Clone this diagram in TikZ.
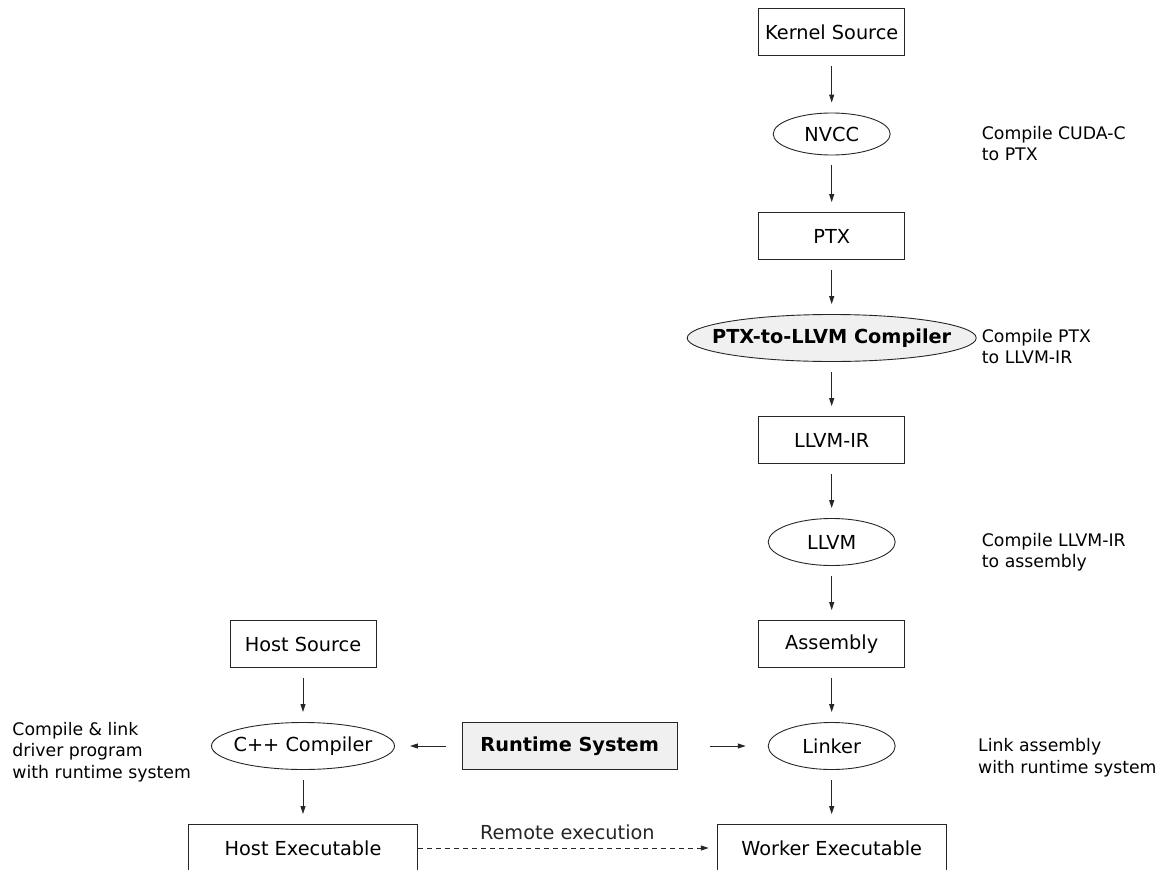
\documentclass[tikz,border=0pt]{standalone}
\usepackage{fontspec}
\setmainfont{DejaVu Sans}
\usepackage{tikz}
\usetikzlibrary{shapes.geometric, arrows.meta, positioning}
\definecolor{nodefill}{HTML}{F0F0F0}
\definecolor{linecol}{HTML}{262626}

\begin{document}
\begin{tikzpicture}[x=1pt, y=1pt, node distance=102pt and 262pt, on grid, every node/.style={font=\fontsize{19.3}{23}\selectfont}]
\tikzstyle{bx}=[draw=linecol, line width=0.9pt, rectangle, inner sep=0pt, minimum width=146pt, minimum height=47pt]
\tikzstyle{el}=[draw=linecol, line width=0.9pt, ellipse, inner sep=0pt, minimum width=127pt, minimum height=47pt]
\tikzstyle{note}=[font=\fontsize{17.3}{21.5}\selectfont, align=left, inner sep=0pt, anchor=base west]
\tikzstyle{ar}=[-{Triangle[length=8pt, width=5pt]}, line width=0.9pt, color=linecol, shorten <=10pt, shorten >=10pt]

\useasboundingbox (0,0) rectangle (1173,-870);

% kernel side
\node[bx](ks) at (831.7,-32){Kernel Source};
\node[el, below=of ks, minimum width=117pt, minimum height=42pt](nv){NVCC};
\node[bx, below=of nv](ptx){PTX};
\node[el, below=of ptx, minimum width=289pt, fill=nodefill, font=\fontsize{19.3}{23}\selectfont\bfseries](pl){\makebox[0pt]{PTX-to-LLVM Compiler}};
\node[bx, below=of pl](ir){LLVM-IR};
\node[el, below=of ir](lv){LLVM};
\node[bx, below=of lv](as){Assembly};
\node[el, below=of as](lk){Linker};
\node[bx, below=of lk, minimum width=229pt](we){Worker Executable};

% host side
\node[bx, left=528.7pt of as](hs){Host Source};
\node[el, left=528.7pt of lk, minimum width=183pt](cc){\makebox[0pt]{C++ Compiler}};
\node[bx, below=of cc, minimum width=229pt](he){Host Executable};
\node[bx, left=of lk, minimum width=215pt, fill=nodefill, font=\fontsize{19.3}{23}\selectfont\bfseries](rt){Runtime System};

% notes (base = last line)
\node[note](n1) at (981.7,-160.7){Compile CUDA-C\\to PTX};
\node[note](n2) at (981.7,-363.5){Compile PTX\\to LLVM-IR};
\node[note](n3) at (981.7,-567.5){Compile LLVM-IR\\to assembly};
\node[note](n4) at (978,-773.2){Link assembly\\with runtime system};
\node[note](n5) at (12.3,-778.3){Compile \& link\\driver program\\with runtime system};

\draw[ar](ks)--(nv); \draw[ar](nv)--(ptx); \draw[ar](ptx)--(pl); \draw[ar](pl)--(ir);
\draw[ar](ir)--(lv); \draw[ar](lv)--(as); \draw[ar](as)--(lk); \draw[ar](lk)--(we);
\draw[ar](hs)--(cc); \draw[ar](cc)--(he);
\draw[ar, shorten <=16pt, shorten >=15pt](rt)--(cc);
\draw[ar, shorten <=32pt, shorten >=22pt](rt)--(lk);
\draw[ar, dash pattern=on 5pt off 4pt, shorten <=0pt, shorten >=8pt](he)--(we) node[midway, above=8pt, inner sep=0pt](re){Remote execution};
\end{tikzpicture}
\end{document}
